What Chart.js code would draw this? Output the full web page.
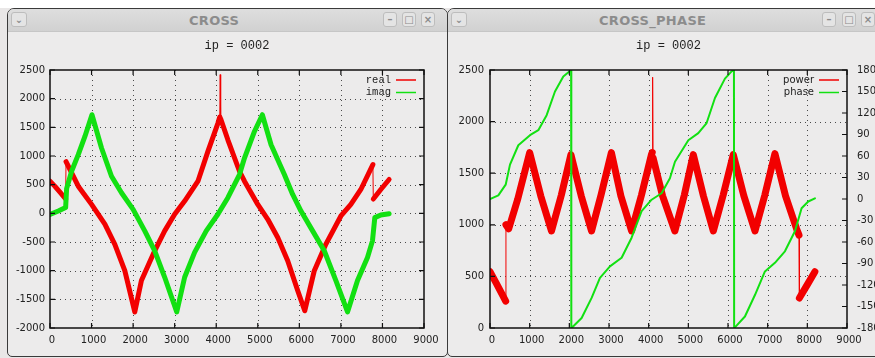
<!DOCTYPE html>
<html>
<head>
<meta charset="utf-8">
<title>CROSS / CROSS_PHASE</title>
<script src="https://cdn.jsdelivr.net/npm/chart.js@4.4.0/dist/chart.umd.min.js"></script>
<style>
  html, body { margin: 0; padding: 0; width: 875px; height: 358px; overflow: hidden; background: #fff; }
  .desk { position: absolute; left: 0; top: 8px; width: 875px; height: 350px; background: #e9e7e7; }
  .win { position: absolute; top: 8px; height: 349px; box-sizing: border-box; background: #ecebeb;
         border: 1.5px solid #3a3a3a; border-radius: 7px 7px 5px 5px; overflow: hidden; }
  .bar { position: absolute; left: 0; right: 0; top: 0; height: 22px;
         background: linear-gradient(#dedede, #d1d1d1); border-bottom: 1px solid #c6c6c6; }
  .ttl { position: absolute; top: 4px; font: bold 13px "DejaVu Sans"; color: #8c8c8c; letter-spacing: 0.3px; white-space: nowrap; }
  .btn { position: absolute; top: 3px; width: 14px; height: 15px; box-sizing: border-box; border: 1px solid #bdbdbd;
         border-radius: 3px; background: #e4e4e4; color: #8a8a8a; font: bold 10px "DejaVu Sans"; text-align: center; line-height: 13px; }
  canvas { position: absolute; top: 32px; }
</style>
</head>
<body>
<div class="desk"></div>
<div class="win" style="left:7px; width:441px;">
  <div class="bar">
    <div class="btn" style="left:3px; width:16px;">&#8964;</div>
    <div class="ttl" style="left:181px;">CROSS</div>
    <div class="btn" style="left:375px;">&#8211;</div>
    <div class="btn" style="left:394px;">&#9633;</div>
    <div class="btn" style="left:413px;">&#215;</div>
  </div>
</div>
<div class="win" style="left:447px; width:440px;">
  <div class="bar">
    <div class="btn" style="left:3px; width:16px;">&#8964;</div>
    <div class="ttl" style="left:151px;">CROSS_PHASE</div>
    <div class="btn" style="left:374px;">&#8211;</div>
    <div class="btn" style="left:394px;">&#9633;</div>
    <div class="btn" style="left:413px;">&#215;</div>
  </div>
</div>
<canvas id="cross" width="446" height="326" style="left:0px"></canvas>
<canvas id="phase" width="426" height="326" style="left:449px"></canvas>
<script>
// ---- CROSS (real / imag) ----
const realX = [0, 120, 250, 376, 386, 680, 1000, 1320, 1560, 1800, 2040, 2200, 2520, 2760, 3000, 3240, 3560, 3800, 4040, 4085,
  4096, 4107, 4280, 4560, 4680, 5000, 5240, 5480, 5720, 5960, 6130, 6360, 6640, 7000, 7240, 7480, 7770, 7780, 7960, 8160]
const realY = [560, 470, 360, 250, 900, 474, 156, -190, -540, -1000, -1720, -1173, -653, -306, -17, 214, 560, 1080, 1570, 1680,
  2420, 1650, 1283, 734, 560, 156, -104, -422, -826, -1347, -1700, -1000, -537, -46, 156, 416, 850, 250, 416, 590]
const imagX = [0, 200, 376, 400, 520, 680, 840, 1010, 1240, 1480, 1720, 2000, 2280, 2520, 2760, 3050, 3240, 3480, 3760, 4040,
  4280, 4560, 4680, 4920, 5110, 5320, 5640, 5840, 6040, 6320, 6600, 6880, 7160, 7400, 7640, 7760, 7816, 7960, 8160]
const imagY = [-20, 40, 100, 430, 734, 1023, 1341, 1720, 1139, 647, 358, 70, -306, -653, -1115, -1720, -1115, -682, -306, -17,
  272, 676, 965, 1428, 1720, 1196, 676, 329, 40, -306, -653, -1173, -1720, -1173, -769, -480, -75, -29, -6]

// ---- CROSS_PHASE (power / phase in degrees) ----
const powerX = [0, 150, 300, 395, 402, 470, 700, 1000, 1280, 1550, 1800, 2040, 2300, 2560, 2800, 3060, 3300, 3570, 3820, 4070,
  4090, 4100, 4110, 4350, 4660, 4900, 5125, 5380, 5630, 5880, 6133, 6400, 6680, 6930, 7183, 7450, 7730, 7790, 7800, 8000, 8190]
const powerY = [545, 440, 330, 260, 1000, 960, 1250, 1700, 1280, 940, 1290, 1680, 1280, 940, 1290, 1700, 1280, 940, 1290, 1680,
  1700, 2430, 1650, 1280, 940, 1290, 1680, 1280, 940, 1290, 1680, 1280, 940, 1290, 1690, 1280, 960, 900, 290, 420, 545]
const phaseX = [0, 210, 395, 504, 714, 1008, 1218, 1428, 1638, 1848, 2016, 2045, 2050, 2075, 2310, 2562, 2772, 3024, 3318, 3570,
  3822, 4074, 4326, 4536, 4663, 5000, 5251, 5461, 5671, 5923, 6091, 6150, 6155, 6192, 6427, 6679, 6931, 7183, 7435, 7687, 7855, 8023, 8191]
const phaseY = [0, 5, 20, 48, 75, 89, 96, 117, 150, 171, 178.6, 180, -180, -179, -166, -138, -110, -94, -82, -54,
  -17, -1, 8, 29, 52, 82, 92, 106, 141, 168, 178, 180, -180, -178, -164, -134, -101, -89, -73, -45, -13, -3.5, 1]

const xRange = [0, 9000, 1000]
const crossRange = [-2000, 2500, 500]
const powerRange = [0, 2500, 500]
const phaseRange = [-180, 180, 30]

const RED = '#f20000'
const GREEN = '#12e012'
const tickFont = { family: 'DejaVu Sans', size: 10 }
const plain = (v) => String(v)

const pts = (xs, ys) => xs.map((x, i) => ({ x, y: ys[i] }))
// near-vertical jumps / spikes are single thin samples in the original
const thinJumps = (w) => ({ borderWidth: (c) => (c.p1.parsed.x - c.p0.parsed.x <= 12 ? 1 : w) })

const gnuFrame = {
  id: 'gnuFrame',
  beforeDatasetsDraw(chart) {
    const { ctx, chartArea: a, scales } = chart
    ctx.save()
    ctx.strokeStyle = '#4a4a4a'
    ctx.lineWidth = 1
    ctx.setLineDash([1, 4])
    scales.x.ticks.forEach((t) => {
      const px = Math.round(scales.x.getPixelForValue(t.value)) + 0.5
      if (px < a.left + 2 || px > a.right - 2) return
      ctx.beginPath(); ctx.moveTo(px, a.top); ctx.lineTo(px, a.bottom); ctx.stroke()
    })
    scales.y.ticks.forEach((t) => {
      const py = Math.round(scales.y.getPixelForValue(t.value)) + 0.5
      if (py < a.top + 2 || py > a.bottom - 2) return
      ctx.beginPath(); ctx.moveTo(a.left, py); ctx.lineTo(a.right, py); ctx.stroke()
    })
    ctx.restore()
  },
  afterDatasetsDraw(chart, args, opts) {
    const { ctx, chartArea: a, scales } = chart
    ctx.save()
    ctx.strokeStyle = '#111'
    ctx.lineWidth = 1.5
    ctx.strokeRect(a.left, a.top, a.right - a.left, a.bottom - a.top)
    const tl = 5
    ctx.lineWidth = 1.2
    ctx.beginPath()
    scales.x.ticks.forEach((t) => {
      const px = scales.x.getPixelForValue(t.value)
      ctx.moveTo(px, a.bottom); ctx.lineTo(px, a.bottom - tl)
      ctx.moveTo(px, a.top); ctx.lineTo(px, a.top + tl)
    })
    scales.y.ticks.forEach((t) => {
      const py = scales.y.getPixelForValue(t.value)
      ctx.moveTo(a.left, py); ctx.lineTo(a.left + tl, py)
      if (!scales.y2) { ctx.moveTo(a.right, py); ctx.lineTo(a.right - tl, py) }
    })
    if (scales.y2) {
      scales.y2.ticks.forEach((t) => {
        const py = scales.y2.getPixelForValue(t.value)
        ctx.moveTo(a.right, py); ctx.lineTo(a.right - tl, py)
      })
    }
    ctx.stroke()

    // title
    ctx.fillStyle = '#222'
    ctx.font = '12px "Liberation Mono"'
    ctx.textAlign = 'center'
    ctx.textBaseline = 'middle'
    ctx.fillText(opts.title, (a.left + a.right) / 2, a.top - 24)

    // key, gnuplot style: text then line sample
    ctx.font = opts.keyFont
    ctx.textAlign = 'right'
    opts.key.forEach((k, i) => {
      const y = a.top + 10 + i * 12.5
      const x2 = a.right - 8
      const x1 = x2 - 20
      ctx.fillStyle = '#222'
      ctx.fillText(k.label, x1 - 5, y)
      ctx.strokeStyle = k.color
      ctx.lineWidth = 1.5
      ctx.beginPath(); ctx.moveTo(x1, y); ctx.lineTo(x2, y); ctx.stroke()
    })
    ctx.restore()
  }
}

const xScale = {
  type: 'linear', min: xRange[0], max: xRange[1],
  ticks: { stepSize: xRange[2], font: tickFont, color: '#222', padding: 6, maxRotation: 0, labelOffset: 2, callback: plain },
  grid: { display: false, drawTicks: false }, border: { display: false },
  afterFit(s) { s.height = 30 }
}

new Chart(document.getElementById('cross'), {
  type: 'line',
  data: {
    datasets: [
      { label: 'imag', data: pts(imagX, imagY), borderColor: GREEN, borderWidth: 5, order: 0 },
      { label: 'real', data: pts(realX, realY), borderColor: RED, borderWidth: 5, order: 1, segment: thinJumps(5) }
    ]
  },
  options: {
    responsive: false,
    animation: false,
    layout: { padding: { left: 0, right: 22, top: 38, bottom: 0 } },
    elements: { point: { radius: 0 }, line: { tension: 0, borderJoinStyle: 'round', borderCapStyle: 'round' } },
    scales: {
      x: xScale,
      y: {
        min: crossRange[0], max: crossRange[1],
        ticks: { stepSize: crossRange[2], font: tickFont, color: '#222', padding: 5, callback: plain },
        grid: { display: false, drawTicks: false }, border: { display: false },
        afterFit(s) { s.width = 50 }
      }
    },
    plugins: {
      legend: { display: false },
      tooltip: { enabled: false },
      gnuFrame: {
        title: 'ip = 0002',
        keyFont: '10.5px "Liberation Mono"',
        key: [{ label: 'real', color: RED }, { label: 'imag', color: GREEN }]
      }
    }
  },
  plugins: [gnuFrame]
})

new Chart(document.getElementById('phase'), {
  type: 'line',
  data: {
    datasets: [
      { label: 'phase', data: pts(phaseX, phaseY), yAxisID: 'y2', borderColor: GREEN, borderWidth: 2, order: 0 },
      { label: 'power', data: pts(powerX, powerY), yAxisID: 'y', borderColor: RED, borderWidth: 7, order: 1, segment: thinJumps(7) }
    ]
  },
  options: {
    responsive: false,
    animation: false,
    layout: { padding: { left: 0, right: 0, top: 38, bottom: 0 } },
    elements: { point: { radius: 0 }, line: { tension: 0, borderJoinStyle: 'round', borderCapStyle: 'round' } },
    scales: {
      x: xScale,
      y: {
        position: 'left', min: powerRange[0], max: powerRange[1],
        ticks: { stepSize: powerRange[2], font: tickFont, color: '#222', padding: 6, callback: plain },
        grid: { display: false, drawTicks: false }, border: { display: false },
        afterFit(s) { s.width = 41 }
      },
      y2: {
        position: 'right', min: phaseRange[0], max: phaseRange[1],
        ticks: { stepSize: phaseRange[2], font: tickFont, color: '#222', padding: 10, callback: plain },
        grid: { display: false, drawTicks: false }, border: { display: false },
        afterFit(s) { s.width = 28 }
      }
    },
    plugins: {
      legend: { display: false },
      tooltip: { enabled: false },
      gnuFrame: {
        title: 'ip = 0002',
        keyFont: '10px "DejaVu Sans"',
        key: [{ label: 'power', color: RED }, { label: 'phase', color: GREEN }]
      }
    }
  },
  plugins: [gnuFrame]
})
</script>
</body>
</html>
